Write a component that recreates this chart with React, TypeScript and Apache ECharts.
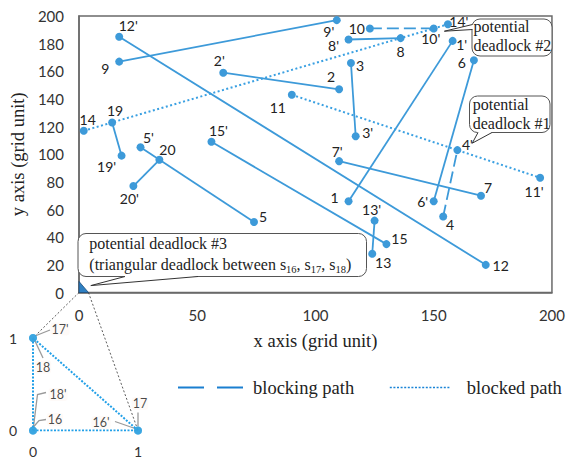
import React, { useEffect, useRef } from "react";
import * as echarts from "echarts";

// ---- data: path segments (start point "n" -> end point "n'") ----
const segNames = ["1", "2", "3", "4", "5", "6", "7", "8", "9", "10", "11", "12", "13", "14", "15", "19", "20"];
const segStartX = [114, 110, 115, 154, 74, 167, 170, 136, 17, 123, 90, 172, 124, 2, 130, 14, 34];
const segStartY = [66, 147, 166, 55, 51, 168, 70, 184, 167, 191, 143, 20, 28, 117, 35, 123, 96];
const segEndX = [158, 61, 117, 160, 26, 150, 110, 114, 109, 150, 195, 17, 125, 156, 56, 18, 23];
const segEndY = [182, 159, 113, 103, 105, 66, 95, 183, 197, 191, 83, 185, 52, 194, 109, 99, 77];
const segKind = ["solid", "solid", "solid", "blocking", "solid", "solid", "solid", "solid", "solid", "blocking", "blocked", "solid", "solid", "blocked", "solid", "solid", "solid"];

// ---- inset (triangular deadlock s16, s17, s18) ----
const insetNames = ["16", "17", "18"];
const insetStartX = [0, 1, 0];
const insetStartY = [0, 0, 1];
const insetEndX = [1, 0, 0];
const insetEndY = [0, 1, 0];

const xTicks = { min: 0, max: 200, interval: 50 };
const yTicks = { min: 0, max: 200, interval: 20 };
const legendNames = ["blocking path", "blocked path"];

// label offsets (style only)
const labelOffset: Record<string, [number, number]> = {
  "1": [-14, -4], "1'": [9, 4], "2": [-8, -13], "2'": [-4, -12], "3": [9, 2], "3'": [12, -4],
  "4": [7, 8], "4'": [10, -6], "5": [9, -5], "5'": [8, -10], "6": [-12, 2], "6'": [-11, 0],
  "7": [7, -8], "7'": [-2, -10], "8": [0, 13], "8'": [-15, 6], "9": [-14, 7], "9'": [-8, 11],
  "10": [-13, 0], "10'": [-3, 10], "11": [-14, 13], "11'": [-6, 14], "12": [15, 1], "12'": [9, -11],
  "13": [11, 9], "13'": [-3, -11], "14": [4, -11], "14'": [11, -3], "15": [13, -6], "15'": [7, -11],
  "19": [3, -12], "19'": [-15, 11], "20": [8, -10], "20'": [-4, 12],
};
const insetLabelOffset: Record<string, [number, number]> = {
  "16": [22, -11], "16'": [-37, -8], "17": [2, -27], "17'": [27, -9], "18": [10, 29], "18'": [25, -36],
};
const insetLeaders: Record<string, number[][]> = {
  "16": [[0, -3], [6, -10], [13, -11]],
  "16'": [[-3, -2], [-23, -9]],
  "17": [[0, -4], [0, -18]],
  "17'": [[2, -2], [17, -8]],
  "18": [[2, 3], [10, 20]],
  "18'": [[0.5, -4], [4.5, -36], [13, -38]],
};

const BLUE = "#3d9ad9";
const SERIF = "'Liberation Serif', 'Times New Roman', serif";
const SANS = "Lato, 'Noto Sans', sans-serif";

export default function App() {
  const ref = useRef<HTMLDivElement>(null);
  useEffect(() => {
    const el = ref.current!;
    const chart = echarts.init(el, undefined, { renderer: "svg" });
    const series: any[] = [];

    segNames.forEach((n, i) => {
      const kind = segKind[i];
      series.push({
        type: "line",
        xAxisIndex: 0,
        yAxisIndex: 0,
        data: [[segStartX[i], segStartY[i]], [segEndX[i], segEndY[i]]],
        symbol: "none",
        silent: true,
        z: 2,
        lineStyle: {
          color: kind === "blocked" ? "#3aa0e2" : BLUE,
          width: kind === "blocked" ? 2 : 1.8,
          type: kind === "solid" ? "solid" : kind === "blocking" ? [12, 5] : [2, 2.5],
        },
      });
    });

    const pts: any[] = [];
    segNames.forEach((n, i) => {
      pts.push({ name: n, value: [segStartX[i], segStartY[i]] });
      pts.push({ name: n + "'", value: [segEndX[i], segEndY[i]] });
    });
    series.push({
      type: "scatter",
      xAxisIndex: 0,
      yAxisIndex: 0,
      symbolSize: 8,
      z: 3,
      itemStyle: { color: BLUE, opacity: 1 },
      data: pts.map((p) => ({
        ...p,
        label: {
          show: true,
          formatter: p.name,
          position: "inside",
          offset: labelOffset[p.name] || [0, 0],
          color: "#222",
          fontFamily: SANS,
          fontSize: 14,
          align: "center",
          verticalAlign: "middle",
          textBorderWidth: 0,
        },
      })),
    });

    // inset lines
    insetNames.forEach((n, i) => {
      series.push({
        type: "line",
        xAxisIndex: 1,
        yAxisIndex: 1,
        data: [[insetStartX[i], insetStartY[i]], [insetEndX[i], insetEndY[i]]],
        symbol: "none",
        silent: true,
        z: 2,
        lineStyle: { color: "#22a0e8", width: 2, type: [2, 1.5] },
      });
    });
    const insetPts: any[] = [];
    insetNames.forEach((n, i) => {
      insetPts.push({ name: n, value: [insetStartX[i], insetStartY[i]] });
      insetPts.push({ name: n + "'", value: [insetEndX[i], insetEndY[i]] });
    });
    series.push({
      type: "scatter",
      xAxisIndex: 1,
      yAxisIndex: 1,
      symbolSize: 8,
      z: 3,
      itemStyle: { color: "#33a3e0" },
      data: insetPts.map((p) => ({
        ...p,
        label: {
          show: true,
          formatter: p.name,
          position: "inside",
          offset: insetLabelOffset[p.name],
          color: "#1a1a1a",
          fontFamily: SANS,
          fontSize: 12.5,
          align: "center",
          verticalAlign: "middle",
          textBorderWidth: 0,
          backgroundColor: "rgba(252,236,230,0.35)",
          borderRadius: 3,
          padding: [0, 1],
        },
      })),
    });

    // legend-only series
    series.push({
      type: "line",
      name: legendNames[0],
      data: [],
      symbol: "none",
      xAxisIndex: 0,
      yAxisIndex: 0,
      itemStyle: { color: "#1a7fd0", opacity: 0 },
      lineStyle: { color: "#1a7fd0", width: 2, type: [26, 13] },
    });
    series.push({
      type: "line",
      name: legendNames[1],
      data: [],
      symbol: "none",
      xAxisIndex: 0,
      yAxisIndex: 0,
      itemStyle: { color: "#1a84d6", opacity: 0 },
      lineStyle: { color: "#1a84d6", width: 1.6, type: [2, 1.6] },
    });

    const legendText = { fontFamily: SERIF, fontSize: 18.5, color: "#222" };

    const option: any = {
      animation: false,
      backgroundColor: "#fff",
      grid: [
        { left: 75, top: 16, width: 479, height: 276.5, show: true, borderColor: "#6a6a6a", borderWidth: 1.5, backgroundColor: "transparent" },
        { left: 33, top: 338, width: 105, height: 92.5 },
      ],
      xAxis: [
        {
          gridIndex: 0, type: "value", ...xTicks,
          axisLine: { show: true, lineStyle: { color: "#6a6a6a", width: 1.5 } },
          axisTick: { show: false }, splitLine: { show: false },
          axisLabel: { fontFamily: SANS, fontSize: 15, color: "#333", margin: 15 },
          name: "x axis (grid unit)", nameLocation: "middle", nameGap: 39,
          nameTextStyle: { fontFamily: SERIF, fontSize: 18.5, color: "#222" },
        },
        {
          gridIndex: 1, type: "value", min: 0, max: 1, interval: 1,
          axisLine: { show: false }, axisTick: { show: false }, splitLine: { show: false },
          axisLabel: { fontFamily: SANS, fontSize: 14, color: "#333", margin: 14 },
        },
      ],
      yAxis: [
        {
          gridIndex: 0, type: "value", ...yTicks,
          axisLine: { show: true, lineStyle: { color: "#6a6a6a", width: 1.5 } },
          axisTick: { show: false }, splitLine: { show: false },
          axisLabel: { fontFamily: SANS, fontSize: 15, color: "#333", margin: 15 },
          name: "y axis (grid unit)", nameLocation: "middle", nameGap: 49,
          nameTextStyle: { fontFamily: SERIF, fontSize: 18.5, color: "#222" },
        },
        {
          gridIndex: 1, type: "value", min: 0, max: 1, interval: 1,
          axisLine: { show: false }, axisTick: { show: false }, splitLine: { show: false },
          axisLabel: { fontFamily: SANS, fontSize: 14, color: "#333", margin: 16 },
        },
      ],
      legend: [
        {
          data: [{ name: legendNames[0], itemStyle: { opacity: 0 }, lineStyle: { color: "#1a7fd0", width: 2, type: [26, 13] } }],
          left: 172, top: 373, itemWidth: 65, itemHeight: 14,
          selectedMode: false, textStyle: { ...legendText, padding: [0, 0, 0, 5] },
        },
        {
          data: [{ name: legendNames[1], itemStyle: { opacity: 0 }, lineStyle: { color: "#1a84d6", width: 1.6, type: [2, 1.6] } }],
          left: 384, top: 373, itemWidth: 61, itemHeight: 14,
          selectedMode: false, textStyle: { ...legendText, padding: [0, 0, 0, 11] },
        },
      ],
      series,
    };
    chart.setOption(option);

    const px = (g: number, v: number[]) => chart.convertToPixel({ gridIndex: g } as any, v) as number[];
    const graphics: any[] = [];

    // small zoom triangle at the origin
    graphics.push({
      type: "polygon", z: 10,
      shape: { points: [px(0, [0, 0]), px(0, [0, 8]), px(0, [4, 0])] },
      style: { fill: "#2e7fc2", stroke: "#1d4d7a", lineWidth: 0.8 },
    });
    // connectors to inset
    const c1a = px(0, [0, 0]), c1b = px(1, [0, 1]);
    const c2a = px(0, [4, 0]), c2b = px(1, [1, 0]);
    graphics.push({ type: "line", z: 1, shape: { x1: c1a[0], y1: c1a[1], x2: c1b[0], y2: c1b[1] }, style: { stroke: "#333", lineWidth: 0.8, lineDash: [2, 2] } });
    graphics.push({ type: "line", z: 1, shape: { x1: c2a[0], y1: c2a[1], x2: c2b[0], y2: c2b[1] }, style: { stroke: "#333", lineWidth: 0.8, lineDash: [2, 2] } });

    // inset leader lines
    insetPts.forEach((p) => {
      const c = px(1, p.value);
      const pts2 = insetLeaders[p.name].map((o) => [c[0] + o[0], c[1] + o[1]]);
      graphics.push({ type: "polyline", z: 1, shape: { points: pts2 }, style: { stroke: "#9a9a9a", lineWidth: 1.3, fill: null } });
    });

    // callouts
    const callout = (box: number[], base: number[][], tip: number[], text: any, tx: number, ty: number) => {
      graphics.push({
        type: "rect", z: 20,
        shape: { x: box[0], y: box[1], width: box[2], height: box[3], r: 8 },
        style: { fill: "#fff", stroke: "#555", lineWidth: 1 },
      });
      graphics.push({
        type: "polygon", z: 21,
        shape: { points: [base[0], tip, base[1], base[2], base[3]] },
        style: { fill: "#fff" },
      });
      graphics.push({
        type: "polyline", z: 22,
        shape: { points: [base[0], tip, base[1]] },
        style: { stroke: "#333", lineWidth: 1, fill: null },
      });
      graphics.push({ type: "text", z: 23, x: tx, y: ty, style: text });
    };
    const serifText = (t: string, lh: number) => ({
      text: t, fontFamily: SERIF, fontSize: 16, fill: "#222", lineHeight: lh, verticalAlign: "top", align: "left",
    });

    const tip2 = px(0, [154.5, 189]);
    callout([472, 19, 80, 37], [[472.5, 24.5], [472.5, 29.5], [474, 29.5], [474, 24.5]], tip2, serifText("potential\ndeadlock #2", 18.6), 473.5, 17.5);

    const tip1 = px(0, [166.3, 108]);
    callout([469.5, 96, 80.5, 36.5], [[478, 132.5], [492, 132.5], [492, 131], [478, 131]], tip1, serifText("potential\ndeadlock #1", 18.3), 472.7, 95.8);

    const tip3 = px(0, [5, 5]);
    callout([78, 233.5, 288.5, 43], [[125, 276.5], [198, 276.5], [198, 275], [125, 275]], tip3, {
      text: "{t|potential deadlock #3}\n{t|(triangular deadlock between s}{s|16}{t|, s}{s|17}{t|, s}{s|18}{t|)}",
      fontFamily: SERIF, fontSize: 16, fill: "#222", verticalAlign: "top", align: "left",
      rich: {
        t: { fontFamily: SERIF, fontSize: 16, lineHeight: 21, fill: "#222" },
        s: { fontFamily: SERIF, fontSize: 10.5, lineHeight: 13, verticalAlign: "bottom", fill: "#222" },
      },
    }, 89.3, 232.8);

    chart.setOption({ graphic: graphics });

    return () => chart.dispose();
  }, []);

  return <div ref={ref} style={{ position: "fixed", left: 0, top: 0, width: 568, height: 460 }} />;
}
